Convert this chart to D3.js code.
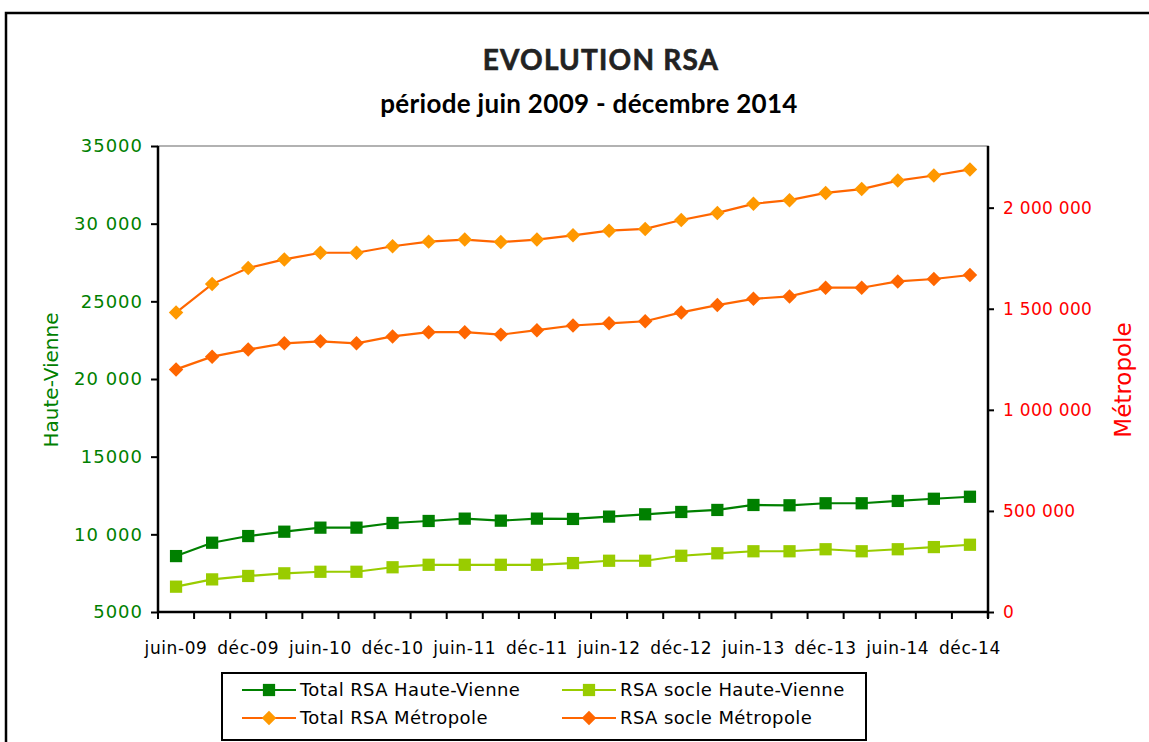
<!DOCTYPE html>
<html>
<head>
<meta charset="utf-8">
<script src="https://cdn.jsdelivr.net/npm/d3@7"></script>
<style>
  body { margin: 0; background: #fff; }
  svg { display: block; }
</style>
</head>
<body>
<div id="chart"></div>
<script>
const width = 1149;
const height = 742;

// quarterly periods, juin-09 -> déc-14
const periods = [
  "juin-09", "sept-09", "déc-09", "mars-10", "juin-10", "sept-10", "déc-10", "mars-11",
  "juin-11", "sept-11", "déc-11", "mars-12", "juin-12", "sept-12", "déc-12", "mars-13",
  "juin-13", "sept-13", "déc-13", "mars-14", "juin-14", "sept-14", "déc-14"
];

const totalHV = [8600, 9460, 9890, 10170, 10430, 10430, 10730, 10860, 11010, 10880, 11010, 10990,
  11140, 11290, 11440, 11570, 11890, 11870, 12000, 12000, 12150, 12290, 12420];
const socleHV = [6630, 7100, 7320, 7490, 7590, 7590, 7880, 8040, 8040, 8040, 8040, 8150,
  8300, 8300, 8620, 8780, 8910, 8910, 9040, 8910, 9040, 9180, 9330];
const totalMetro = [1481000, 1622000, 1701000, 1744000, 1777000, 1777000, 1809000, 1832000, 1842000,
  1830000, 1842000, 1863000, 1886000, 1895000, 1939000, 1974000, 2019000, 2037000, 2073000,
  2092000, 2134000, 2159000, 2189000];
const socleMetro = [1200000, 1263000, 1298000, 1329000, 1339000, 1329000, 1363000, 1384000, 1384000,
  1372000, 1394000, 1417000, 1428000, 1438000, 1482000, 1518000, 1549000, 1561000, 1604000,
  1604000, 1635000, 1647000, 1667000];

const leftTicks = [5000, 10000, 15000, 20000, 25000, 30000, 35000];
const leftTickLabels = ["5000", "10 000", "15000", "20 000", "25000", "30 000", "35000"];
const rightTicks = [0, 500000, 1000000, 1500000, 2000000];
const rightTickLabels = ["0", "500 000", "1 000 000", "1 500 000", "2 000 000"];

const series = [
  { name: "Total RSA Haute-Vienne", values: totalHV, axis: "left", line: "#008000", fill: "#008000", shape: "square" },
  { name: "RSA socle Haute-Vienne", values: socleHV, axis: "left", line: "#99cc00", fill: "#99cc00", shape: "square" },
  { name: "Total RSA Métropole", values: totalMetro, axis: "right", line: "#ff6600", fill: "#ff9900", shape: "diamond" },
  { name: "RSA socle Métropole", values: socleMetro, axis: "right", line: "#ff6600", fill: "#ff6600", shape: "diamond" }
];

const plot = { left: 158, right: 988, top: 146, bottom: 612 };

const svg = d3.select("#chart").append("svg")
  .attr("width", width)
  .attr("height", height);

// outer chart frame
svg.append("rect")
  .attr("x", 6).attr("y", 13)
  .attr("width", width + 20).attr("height", height + 20)
  .attr("fill", "#fff")
  .attr("stroke", "#000")
  .attr("stroke-width", 2.5);

svg.append("text")
  .attr("x", 601).attr("y", 70)
  .attr("text-anchor", "middle")
  .style("font-family", "Lato")
  .style("font-weight", "bold")
  .style("font-size", "28px")
  .style("letter-spacing", "1.2px")
  .style("stroke", "#222").style("stroke-width", 0.6)
  .style("fill", "#222")
  .text("EVOLUTION RSA");

svg.append("text")
  .attr("x", 589).attr("y", 113)
  .attr("text-anchor", "middle")
  .style("font-family", "Lato")
  .style("font-weight", "bold")
  .style("font-size", "26px")
  .style("letter-spacing", "0.3px")
  .style("fill", "#000")
  .text("période juin 2009 - décembre 2014");

const x = d3.scaleBand().domain(periods).range([plot.left, plot.right]);
const yL = d3.scaleLinear().domain([5000, 35000]).range([plot.bottom, plot.top]);
const yR = d3.scaleLinear().domain([0, 2305000]).range([plot.bottom, plot.top]);

// plot area border (only the top edge shows)
svg.append("rect")
  .attr("x", plot.left).attr("y", plot.top)
  .attr("width", plot.right - plot.left).attr("height", plot.bottom - plot.top)
  .attr("fill", "none")
  .attr("stroke", "#999")
  .attr("stroke-width", 1.5);

const leftAxis = svg.append("g")
  .attr("transform", `translate(${plot.left},0)`)
  .call(d3.axisLeft(yL).tickValues(leftTicks).tickSize(7).tickPadding(8)
    .tickFormat((d, i) => leftTickLabels[i]));

const rightAxis = svg.append("g")
  .attr("transform", `translate(${plot.right},0)`)
  .call(d3.axisRight(yR).tickValues(rightTicks).tickSize(6).tickPadding(9)
    .tickFormat((d, i) => rightTickLabels[i]));

// category axis: ticks between categories, labels every other period
const bottomAxis = svg.append("g")
  .attr("transform", `translate(0,${plot.bottom})`)
  .call(d3.axisBottom(x).tickSize(0).tickPadding(30)
    .tickFormat((d, i) => i % 2 === 0 ? d : ""));

bottomAxis.selectAll(".tickmark")
  .data(d3.range(periods.length + 1))
  .enter().append("line")
  .attr("x1", i => plot.left + i * x.step())
  .attr("x2", i => plot.left + i * x.step())
  .attr("y1", 0).attr("y2", 7)
  .attr("stroke", "#000").attr("stroke-width", 2);

[leftAxis, rightAxis, bottomAxis].forEach(g => {
  g.select(".domain").attr("stroke", "#000").attr("stroke-width", 2.5);
  g.selectAll(".tick line").attr("stroke", "#000").attr("stroke-width", 2);
});
bottomAxis.select(".domain").attr("d", `M${plot.left},0H${plot.right}`);
leftAxis.select(".domain").attr("d", `M0,${plot.top}V${plot.bottom}`);
rightAxis.select(".domain").attr("d", `M0,${plot.top}V${plot.bottom + 6}`);

leftAxis.selectAll("text")
  .style("font-family", "DejaVu Sans")
  .style("font-size", "18px")
  .style("letter-spacing", "1px")
  .style("fill", "#008000");
rightAxis.selectAll("text")
  .style("font-family", "DejaVu Sans")
  .style("font-size", "17px")
  .style("letter-spacing", "0.3px")
  .style("fill", "#ff0000");
bottomAxis.selectAll("text")
  .style("font-family", "DejaVu Sans")
  .style("font-size", "17px")
  .style("letter-spacing", "0.6px")
  .style("fill", "#000");

svg.append("text")
  .attr("transform", "translate(58,380) rotate(-90)")
  .attr("text-anchor", "middle")
  .style("font-family", "DejaVu Sans")
  .style("font-size", "20px")
  .style("fill", "#008000")
  .text("Haute-Vienne");

svg.append("text")
  .attr("transform", "translate(1131,380) rotate(-90)")
  .attr("text-anchor", "middle")
  .style("font-family", "DejaVu Sans")
  .style("font-size", "23px")
  .style("fill", "#ff0000")
  .text("Métropole");

// squares for Haute-Vienne, squares turned 45° for Métropole
const markerPath = d3.symbol().type(d3.symbolSquare);
const markerAttrs = shape => shape === "square"
  ? { d: markerPath.size(150)(), rot: 0 }
  : { d: markerPath.size(105)(), rot: 45 };

series.forEach(s => {
  const y = s.axis === "left" ? yL : yR;
  const m = markerAttrs(s.shape);
  const line = d3.line()
    .x((d, i) => x(periods[i]) + x.bandwidth() / 2)
    .y(d => y(d));

  svg.append("path")
    .datum(s.values)
    .attr("fill", "none")
    .attr("stroke", s.line)
    .attr("stroke-width", 2.2)
    .attr("d", line);

  svg.append("g").selectAll("path")
    .data(s.values)
    .enter().append("path")
    .attr("transform", (d, i) => `translate(${x(periods[i]) + x.bandwidth() / 2},${y(d)}) rotate(${m.rot})`)
    .attr("d", m.d)
    .attr("fill", s.fill);
});

// legend
const legend = svg.append("g");
legend.append("rect")
  .attr("x", 222).attr("y", 673)
  .attr("width", 644).attr("height", 67)
  .attr("fill", "#fff")
  .attr("stroke", "#000")
  .attr("stroke-width", 2);

const legendPos = [
  { x: 242, y: 690 }, { x: 562, y: 690 },
  { x: 242, y: 718 }, { x: 562, y: 718 }
];

const item = legend.selectAll(".item")
  .data(series)
  .enter().append("g")
  .attr("class", "item")
  .attr("transform", (d, i) => `translate(${legendPos[i].x},${legendPos[i].y})`);

item.append("line")
  .attr("x1", 0).attr("x2", 54)
  .attr("stroke", d => d.line)
  .attr("stroke-width", 2.2);

item.append("path")
  .attr("transform", d => `translate(27,0) rotate(${markerAttrs(d.shape).rot})`)
  .attr("d", d => markerAttrs(d.shape).d)
  .attr("fill", d => d.fill);

item.append("text")
  .attr("x", 58).attr("dy", "0.36em")
  .style("font-family", "DejaVu Sans")
  .style("font-size", "18px")
  .style("letter-spacing", "0.4px")
  .style("fill", "#000")
  .text(d => d.name);
</script>
</body>
</html>
